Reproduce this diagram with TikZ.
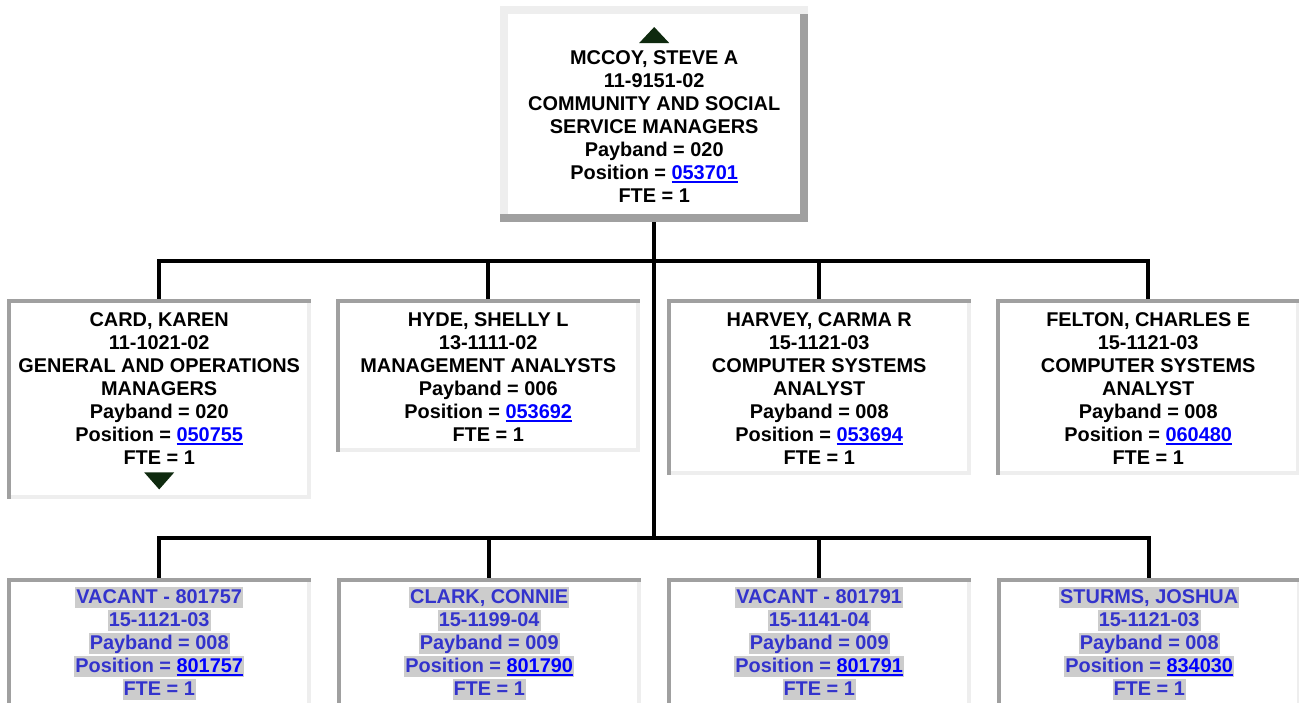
\documentclass[tikz,border=0pt]{standalone}
\usepackage{fontspec}
\setmainfont{Liberation Sans}
\usepackage{xcolor}
\usetikzlibrary{positioning}
\definecolor{edgedark}{HTML}{A0A0A0}
\definecolor{edgelight}{HTML}{EEEEEE}
\definecolor{linkblue}{HTML}{0000FF}
\definecolor{vacantblue}{HTML}{3333CC}
\definecolor{vacantgray}{HTML}{CCCCCC}
\definecolor{arrowgreen}{HTML}{0F2A0F}
\newcommand\chartfont{\fontsize{19.9pt}{23pt}\selectfont\bfseries}
\newcommand\ls{\rule[-3.5pt]{0pt}{19.5pt}}
\newcommand\poslink[1]{{\color{linkblue}\setbox0=\hbox{#1}\rlap{\rule[-3.5pt]{\wd0}{2pt}}\box0}}
\newcommand\hl[1]{{\setlength{\fboxsep}{0pt}\colorbox{vacantgray}{\kern1pt\rule[-4pt]{0pt}{21pt}#1\kern1pt}}}

\begin{document}
\begin{tikzpicture}[
  x=1pt, y=-1pt,
  font=\chartfont,
  box/.style={rectangle, fill=white, inner sep=0pt, anchor=north west},
  raised/.style={box, path picture={
    \coordinate (pnw) at (path picture bounding box.north west);
    \coordinate (pne) at (path picture bounding box.north east);
    \coordinate (psw) at (path picture bounding box.south west);
    \coordinate (pse) at (path picture bounding box.south east);
    \fill[edgelight] (pnw) rectangle ([xshift=8pt]psw);
    \fill[edgedark] (pne) rectangle ([xshift=-8pt]pse);
    \fill[edgedark] (pse) rectangle ([yshift=8pt]psw);
    \fill[edgelight] (pnw) rectangle ([yshift=-8pt]pne);}},
  sunken/.style={box, minimum width=304pt, path picture={
    \coordinate (pnw) at (path picture bounding box.north west);
    \coordinate (pne) at (path picture bounding box.north east);
    \coordinate (psw) at (path picture bounding box.south west);
    \coordinate (pse) at (path picture bounding box.south east);
    \fill[edgelight] (pse) rectangle ([yshift=4pt]psw);
    \fill[edgelight] (pne) rectangle ([xshift=-4pt]pse);
    \fill[edgedark] (pnw) rectangle ([yshift=-4pt]pne);
    \fill[edgedark] (pnw) rectangle ([xshift=4pt]psw);}},
  info/.style={inner sep=0pt, align=center},
  vacant/.style={info, text=vacantblue},
  orgline/.style={line width=4pt},
  marker/.style={fill=arrowgreen}
]
\useasboundingbox (0,0) rectangle (1299,702);
\fill[white] (0,0) rectangle (1299,702);
\clip (0,0) rectangle (1299,702);

% manager
\node[raised, minimum width=308pt, minimum height=216pt] (boss) at (500,6) {};
\node[info, below=42.5pt of boss.north] (bosstxt)
  {\ls MCCOY, STEVE A\\11-9151-02\\COMMUNITY AND SOCIAL\\SERVICE MANAGERS\\
   Payband = 020\\Position = \poslink{053701}\\FTE = 1};
\fill[marker] ([yshift=-21pt]boss.north) -- ++(15pt,-16pt) -- ++(-30pt,0pt) -- cycle;

% first row
\node[sunken, minimum height=200pt] (card) at (7,299) {};
\node[sunken, minimum height=153pt] (hyde) at (336,299) {};
\node[sunken, minimum height=176pt] (harvey) at (667,299) {};
\node[sunken, minimum height=176pt] (felton) at (996,299) {};
\node[info, below=11pt of card.north] (cardtxt)
  {\ls CARD, KAREN\\11-1021-02\\GENERAL AND OPERATIONS\\MANAGERS\\
   Payband = 020\\Position = \poslink{050755}\\FTE = 1};
\node[info, below=11pt of hyde.north] (hydetxt)
  {\ls HYDE, SHELLY L\\13-1111-02\\MANAGEMENT ANALYSTS\\
   Payband = 006\\Position = \poslink{053692}\\FTE = 1};
\node[info, below=11pt of harvey.north] (harveytxt)
  {\ls HARVEY, CARMA R\\15-1121-03\\COMPUTER SYSTEMS\\ANALYST\\
   Payband = 008\\Position = \poslink{053694}\\FTE = 1};
\node[info, below=11pt of felton.north] (feltontxt)
  {\ls FELTON, CHARLES E\\15-1121-03\\COMPUTER SYSTEMS\\ANALYST\\
   Payband = 008\\Position = \poslink{060480}\\FTE = 1};
\fill[marker] ([yshift=10pt]card.south) -- ++(15pt,17pt) -- ++(-30pt,0pt) -- cycle;

% second row
\node[sunken, minimum height=140pt] (vac1) at (7,578) {};
\node[sunken, minimum height=140pt] (clark) at (337,578) {};
\node[sunken, minimum height=140pt] (vac2) at (667,578) {};
\node[sunken, minimum height=140pt] (sturms) at (997,578) {};
\node[vacant, below=8.5pt of vac1.north] (vac1txt)
  {\ls\hl{VACANT - 801757}\\\hl{15-1121-03}\\\hl{Payband = 008}\\
   \hl{Position = \poslink{801757}}\\\hl{FTE = 1}};
\node[vacant, below=8.5pt of clark.north] (clarktxt)
  {\ls\hl{CLARK, CONNIE}\\\hl{15-1199-04}\\\hl{Payband = 009}\\
   \hl{Position = \poslink{801790}}\\\hl{FTE = 1}};
\node[vacant, below=8.5pt of vac2.north] (vac2txt)
  {\ls\hl{VACANT - 801791}\\\hl{15-1141-04}\\\hl{Payband = 009}\\
   \hl{Position = \poslink{801791}}\\\hl{FTE = 1}};
\node[vacant, below=8.5pt of sturms.north] (sturmstxt)
  {\ls\hl{STURMS, JOSHUA}\\\hl{15-1121-03}\\\hl{Payband = 008}\\
   \hl{Position = \poslink{834030}}\\\hl{FTE = 1}};

% connectors
\foreach \kid in {card,hyde,harvey,felton}
  \draw[orgline] (boss.south) -- ++(0,39) -| (\kid.north);
\foreach \kid in {vac1,clark,vac2,sturms}
  \draw[orgline] (boss.south) -- ++(0,316) -| (\kid.north);
\end{tikzpicture}
\end{document}
